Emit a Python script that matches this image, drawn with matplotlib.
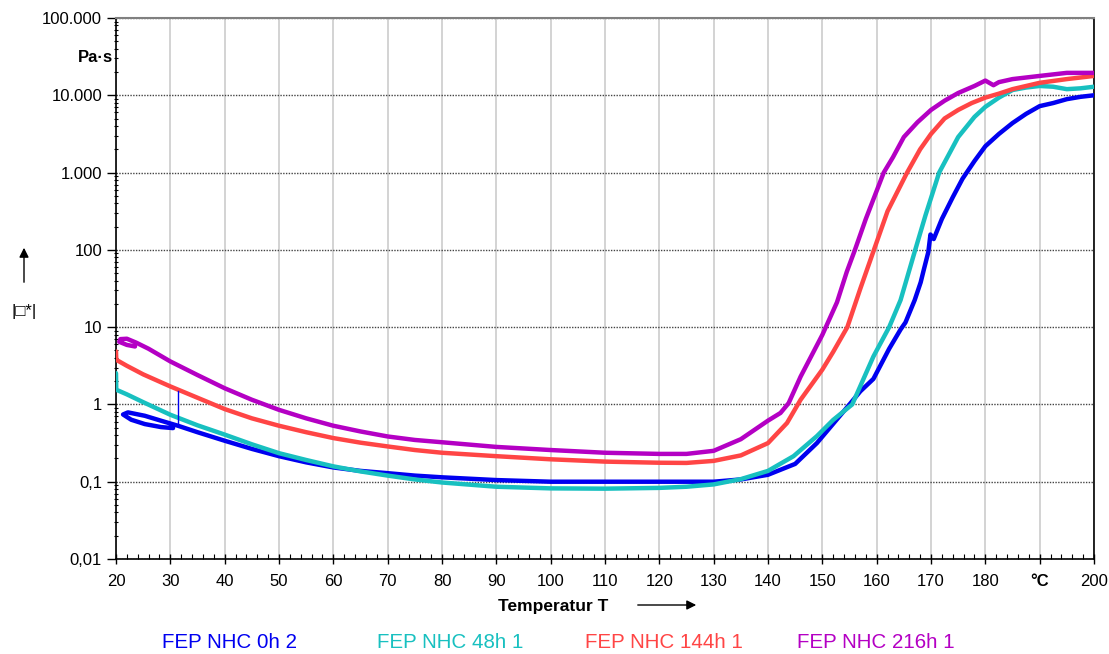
import matplotlib
matplotlib.use('Agg')
import matplotlib.pyplot as plt
from matplotlib.ticker import FixedLocator, MultipleLocator, LogLocator, NullFormatter

plt.rcParams['font.family'] = ['Liberation Sans', 'DejaVu Sans']

# FEP NHC 0h 2 (blau) - beginnt mit kleiner Schleife
t_0h = [30.5, 28.3, 25.3, 22.8, 21.3, 22.2, 25.3, 28.3, 31.4, 35, 40, 45, 50, 55, 60, 65, 70, 75, 80,
        90, 100, 110, 120, 130, 135, 140, 145, 149, 152, 155, 157, 159.4, 162.3, 164.4, 165.3, 167,
        168.1, 168.7, 169.5, 169.9, 170.5, 172, 174, 175.8, 178, 180, 182.5, 185, 187.5, 190, 192.5,
        195, 197.5, 200]
eta_0h = [0.494, 0.509, 0.557, 0.634, 0.741, 0.789, 0.713, 0.615, 0.530, 0.437, 0.339, 0.266, 0.214,
          0.178, 0.153, 0.138, 0.129, 0.120, 0.114, 0.105, 0.100, 0.100, 0.100, 0.100, 0.107, 0.123,
          0.170, 0.316, 0.562, 1.0, 1.48, 2.14, 5.25, 9.33, 11.5, 22.4, 38.0, 56.2, 93.3, 158, 138,
          251, 479, 832, 1410, 2190, 3160, 4370, 5750, 7240, 7940, 8910, 9550, 10000]
# kurzer Ausreisser bei ca. 31 °C
t_0h_spike = [31.4, 31.4]
eta_0h_spike = [0.53, 1.47]

# FEP NHC 48h 1 (tuerkis)
t_48h = [20, 20.05, 22, 25, 30, 35, 40, 45, 50, 55, 60, 65, 70, 75, 80, 90, 100, 110, 120, 125, 130,
         135, 140, 144.7, 149, 152, 155.5, 159.4, 162.3, 164.4, 167.1, 169, 171.5, 175, 178, 180,
         182.5, 185, 187.5, 190, 192.5, 195, 197.5, 200]
eta_48h = [2.54, 1.55, 1.35, 1.07, 0.735, 0.537, 0.407, 0.305, 0.234, 0.191, 0.158, 0.136, 0.120,
           0.107, 0.0977, 0.0861, 0.082, 0.0813, 0.0832, 0.0861, 0.0923, 0.108, 0.138, 0.214, 0.389,
           0.631, 1.0, 4.17, 10, 22.4, 100, 282, 1000, 2880, 5250, 7080, 9330, 11700, 12600, 13200,
           12900, 12000, 12300, 12900]

# FEP NHC 144h 1 (rot)
t_144h = [20, 20.05, 22, 25, 30, 35, 40, 45, 50, 55, 60, 65, 70, 75, 80, 90, 100, 110, 120, 125, 130,
          135, 140, 143.5, 146, 150, 152, 154.6, 157, 159.5, 162, 165.6, 168, 170, 172.5, 175, 177.5,
          180, 182.5, 185, 190, 195, 200]
eta_144h = [4.84, 3.78, 3.16, 2.45, 1.71, 1.22, 0.871, 0.661, 0.530, 0.437, 0.367, 0.320, 0.286, 0.257,
            0.237, 0.214, 0.195, 0.182, 0.176, 0.175, 0.186, 0.219, 0.316, 0.575, 1.15, 2.82, 4.79, 10,
            31.6, 100, 316, 1000, 2000, 3160, 5010, 6460, 7940, 9330, 10500, 12000, 14500, 16200, 17800]

# FEP NHC 216h 1 (violett) - ebenfalls mit Schleife am Anfang
t_216h = [23.5, 22, 20.6, 20.8, 22, 23.7, 26, 30, 35, 40, 45, 50, 55, 60, 65, 70, 75, 80, 90, 100, 110,
          120, 125, 130, 135, 140, 142.3, 143.8, 146, 150, 152.7, 154.5, 156, 158, 161.3, 163, 165,
          167.5, 170, 172.5, 175, 178, 180, 181.5, 182.5, 185, 190, 195, 200]
eta_216h = [5.62, 5.89, 6.46, 7.0, 7.08, 6.31, 5.25, 3.60, 2.40, 1.62, 1.15, 0.851, 0.661, 0.530, 0.447,
            0.385, 0.347, 0.324, 0.282, 0.257, 0.237, 0.229, 0.229, 0.251, 0.355, 0.617, 0.776, 1.04,
            2.29, 7.94, 21, 52, 100, 251, 1000, 1580, 2880, 4470, 6460, 8510, 10700, 13200, 15500,
            13500, 14800, 16200, 17800, 19500, 19500]

series_names = ['FEP NHC 0h 2', 'FEP NHC 48h 1', 'FEP NHC 144h 1', 'FEP NHC 216h 1']
series_colors = ['#0000f0', '#18c0c0', '#ff4545', '#b400c4']

y_ticks = [0.01, 0.1, 1, 10, 100, 1000, 10000, 100000]
y_ticklabels = ['0,01', '0,1', '1', '10', '100', '1.000', '10.000', '100.000']
x_ticks = list(range(20, 201, 10))
x_ticklabels = [str(t) for t in x_ticks]
x_ticklabels[-2] = '°C'

fig = plt.figure(figsize=(11.09, 6.54), dpi=100)
ax = fig.add_axes([116/1109, 1-559/654, (1094-116)/1109, (559-18)/654])

data = [(t_0h, eta_0h), (t_48h, eta_48h), (t_144h, eta_144h), (t_216h, eta_216h)]
for (t, eta), c in zip(data, series_colors):
    ax.plot(t, eta, color=c, lw=3.2, solid_joinstyle='round', solid_capstyle='round', zorder=3)
ax.plot(t_0h_spike, eta_0h_spike, color=series_colors[0], lw=1.0, zorder=3)

ax.set_yscale('log')
ax.set_xlim(20, 200)
ax.set_ylim(0.01, 100000)

ax.yaxis.set_major_locator(FixedLocator(y_ticks))
ax.set_yticklabels(y_ticklabels)
ax.yaxis.set_minor_locator(LogLocator(base=10, subs=range(2, 10), numticks=20))
ax.yaxis.set_minor_formatter(NullFormatter())
ax.set_xticks(x_ticks)
ax.set_xticklabels(x_ticklabels)
ax.xaxis.set_minor_locator(MultipleLocator(2))
for lab in ax.get_xticklabels():
    if lab.get_text() == '°C':
        lab.set_fontweight('bold')

ax.tick_params(axis='y', which='major', direction='out', length=6.5, width=1, labelsize=12, pad=3.5)
ax.tick_params(axis='y', which='minor', direction='inout', length=3.5, width=0.8)
ax.tick_params(axis='x', which='major', direction='inout', length=7, width=1, labelsize=12, pad=7)
ax.tick_params(axis='x', which='minor', direction='in', length=3.5, width=0.8)

ax.grid(True, axis='x', which='major', color='#d0d0d0', lw=1.3, zorder=0)
ax.grid(True, axis='y', which='major', color='#444444', lw=1.0, ls=(0, (1, 1)), zorder=1)

ax.spines['top'].set_color('#808080')
ax.spines['top'].set_linewidth(1.5)
for s in ['left', 'bottom', 'right']:
    ax.spines[s].set_color('black')
    ax.spines[s].set_linewidth(1.2)

# Achsenbeschriftungen
fig.text(113/1109, 1-57/654, 'Pa·s', ha='right', va='center', fontsize=12, fontweight='bold')
fig.text(24/1109, 1-311/654, '|\u25a1*|', ha='center', va='center', fontsize=12)
ax.annotate('', xy=(24/1109, 1-245/654), xytext=(24/1109, 1-285/654), xycoords='figure fraction',
            arrowprops=dict(arrowstyle='-|>', color='black', lw=1, mutation_scale=14))
fig.text(553/1109, 1-606/654, 'Temperatur T', ha='center', va='center', fontsize=12.5, fontweight='bold')
ax.annotate('', xy=(699/1109, 1-605/654), xytext=(635/1109, 1-605/654), xycoords='figure fraction',
            arrowprops=dict(arrowstyle='-|>', color='black', lw=1, mutation_scale=14))

# Legende als farbiger Text
legend_x = [162, 377, 585, 797]
for name, c, x in zip(series_names, series_colors, legend_x):
    fig.text(x/1109, 1-643/654, name, color=c, ha='left', va='center', fontsize=14.8)

fig.savefig('out.png', dpi=100)
